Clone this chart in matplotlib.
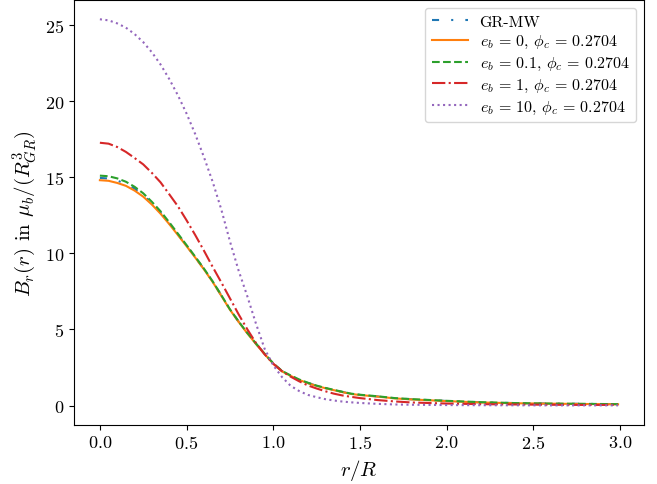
import matplotlib
matplotlib.use("Agg")
import matplotlib.pyplot as plt

plt.rcParams["font.family"] = "serif"
plt.rcParams["font.serif"] = ["cmr10"]
plt.rcParams["mathtext.fontset"] = "cm"
plt.rcParams["axes.formatter.use_mathtext"] = True

# radial coordinate r/R
r = [0.00, 0.05, 0.10, 0.15, 0.20, 0.25, 0.30, 0.35, 0.40, 0.45,
     0.50, 0.55, 0.60, 0.65, 0.70, 0.75, 0.80, 0.85, 0.90, 0.95,
     1.00, 1.05, 1.10, 1.15, 1.20, 1.25, 1.30, 1.35, 1.40, 1.45,
     1.50, 1.60, 1.70, 1.80, 2.00, 2.20, 2.40, 2.60, 2.80, 2.99]

# B_r(r) in mu_b / R_GR^3
b_grmw = [14.95, 14.91, 14.77, 14.57, 14.25, 13.83, 13.29, 12.67, 11.97, 11.24,
          10.50, 9.74, 8.97, 8.15, 7.24, 6.32, 5.52, 4.77, 4.07, 3.40,
          2.77, 2.27, 1.96, 1.69, 1.48, 1.30, 1.15, 1.02, 0.89, 0.77,
          0.70, 0.60, 0.48, 0.41, 0.30, 0.21, 0.16, 0.13, 0.11, 0.09]
b_eb0 = [14.80, 14.76, 14.62, 14.43, 14.12, 13.72, 13.20, 12.60, 11.92, 11.20,
         10.47, 9.72, 8.95, 8.13, 7.22, 6.30, 5.50, 4.75, 4.05, 3.38,
         2.75, 2.25, 1.95, 1.68, 1.47, 1.29, 1.14, 1.01, 0.88, 0.76,
         0.69, 0.59, 0.47, 0.40, 0.29, 0.20, 0.15, 0.12, 0.10, 0.08]
b_eb01 = [15.10, 15.06, 14.92, 14.70, 14.37, 13.94, 13.38, 12.76, 12.04, 11.29,
          10.54, 9.78, 9.00, 8.17, 7.26, 6.33, 5.53, 4.78, 4.08, 3.41,
          2.78, 2.28, 1.98, 1.71, 1.50, 1.31, 1.16, 1.03, 0.90, 0.78,
          0.71, 0.61, 0.49, 0.42, 0.31, 0.22, 0.16, 0.13, 0.11, 0.09]
b_eb1 = [17.26, 17.20, 16.98, 16.66, 16.26, 15.84, 15.28, 14.66, 13.88, 13.09,
         12.17, 11.20, 10.18, 9.12, 8.10, 7.05, 6.00, 5.02, 4.12, 3.37,
         2.75, 2.26, 1.90, 1.59, 1.32, 1.12, 0.94, 0.78, 0.66, 0.57,
         0.49, 0.36, 0.27, 0.20, 0.13, 0.09, 0.07, 0.05, 0.04, 0.04]
b_eb10 = [25.37, 25.30, 25.10, 24.82, 24.40, 23.87, 23.20, 22.40, 21.45, 20.38,
          19.18, 17.83, 16.33, 14.72, 12.90, 10.80, 8.88, 7.20, 5.40, 3.74,
          2.65, 1.88, 1.30, 0.95, 0.70, 0.55, 0.42, 0.33, 0.26, 0.21,
          0.17, 0.11, 0.07, 0.05, 0.03, 0.02, 0.015, 0.01, 0.01, 0.01]

labels = ["GR-MW",
          r"$e_b\,=\,0$, $\phi_c\,=\,0.2704$",
          r"$e_b\,=\,0.1$, $\phi_c\,=\,0.2704$",
          r"$e_b\,=\,1$, $\phi_c\,=\,0.2704$",
          r"$e_b\,=\,10$, $\phi_c\,=\,0.2704$"]

fig = plt.figure(figsize=(6.57, 4.85), dpi=100)
ax = fig.add_axes([0.1126, 0.1223, 0.8676, 0.8757])

ax.plot(r, b_grmw, color="C0", lw=1.5, linestyle=(0, (3.4, 5.8, 1, 5.8)), label=labels[0])
ax.plot(r, b_eb0, color="C1", lw=1.5, linestyle="-", label=labels[1])
ax.plot(r, b_eb01, color="C2", lw=1.5, linestyle="--", label=labels[2])
ax.plot(r, b_eb1, color="C3", lw=1.5, linestyle="-.", label=labels[3])
ax.plot(r, b_eb10, color="C4", lw=1.5, linestyle=":", label=labels[4])

ax.set_xlabel(r"$r/R$", fontsize=15)
ax.set_ylabel(r"$B_r(r)$ in $\mu_b/(R_{GR}^3)$", fontsize=15)
ax.tick_params(labelsize=13)
ax.set_xticks([0.0, 0.5, 1.0, 1.5, 2.0, 2.5, 3.0])
ax.legend(loc="upper right", fontsize=11.5, labelspacing=0.3,
          handlelength=2.3, handletextpad=0.7, borderaxespad=0.5)

fig.savefig("out.png", dpi=100)
